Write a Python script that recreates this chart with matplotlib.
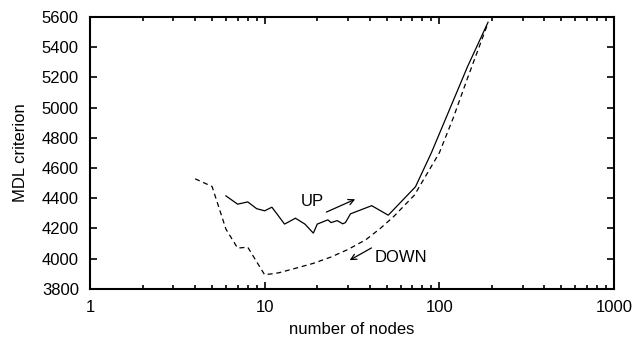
import matplotlib
matplotlib.use("Agg")
import matplotlib.pyplot as plt
from matplotlib.ticker import FixedLocator, FixedFormatter, LogLocator, NullFormatter

plt.rcParams['font.family'] = ['Liberation Sans', 'DejaVu Sans']

# UP search (solid)
up_nodes = [6, 7, 8, 9, 10, 11, 13, 15, 17, 19, 20, 23, 24, 26, 28, 29, 31, 41, 51, 73, 90, 145, 190]
up_mdl = [4415, 4360, 4375, 4330, 4316, 4340, 4228, 4267, 4228, 4168, 4228, 4256, 4238,
          4251, 4230, 4238, 4296, 4350, 4287, 4475, 4700, 5271, 5565]

# DOWN search (dashed)
down_nodes = [4, 5, 6, 7, 8, 10, 12, 15, 19, 24, 30, 38, 46, 55, 72, 100, 120, 145, 190]
down_mdl = [4528, 4477, 4195, 4069, 4075, 3892, 3905, 3935, 3968, 4010, 4060, 4125,
            4200, 4280, 4420, 4700, 4930, 5195, 5560]

x_ticks = [1, 10, 100, 1000]
x_tick_labels = ["1", "10", "100", "1000"]
y_ticks = [3800, 4000, 4200, 4400, 4600, 4800, 5000, 5200, 5400, 5600]

fig = plt.figure(figsize=(6.36, 3.41), dpi=100)
ax = fig.add_axes([90/636, 1 - 288.7/341, (614 - 90)/636, (288.7 - 17)/341])

ax.plot(up_nodes, up_mdl, color='black', lw=0.9, solid_joinstyle='miter')
ax.plot(down_nodes, down_mdl, color='black', lw=0.9, linestyle=(0, (4, 3)))

ax.set_xscale('log')
ax.set_xlim(1, 1000)
ax.set_ylim(3800, 5600)

ax.xaxis.set_major_locator(FixedLocator(x_ticks))
ax.xaxis.set_major_formatter(FixedFormatter(x_tick_labels))
ax.xaxis.set_minor_locator(LogLocator(base=10, subs=range(2, 10)))
ax.xaxis.set_minor_formatter(NullFormatter())
ax.yaxis.set_major_locator(FixedLocator(y_ticks))

ax.tick_params(which='both', direction='in', top=True, right=True, labelsize=12, width=1.2)
ax.tick_params(which='major', length=5, pad=8)
ax.tick_params(which='minor', length=3)
for s in ax.spines.values():
    s.set_linewidth(1.5)

ax.set_xlabel("number of nodes", fontsize=12, labelpad=5)
ax.set_ylabel("MDL criterion", fontsize=12, labelpad=10)

ax.annotate("", xy=(34.1, 4400), xytext=(21.8, 4300),
            arrowprops=dict(arrowstyle='->', color='black', lw=0.9))
ax.text(18.7, 4380, "UP", fontsize=12, ha='center', va='center')
ax.annotate("", xy=(29.7, 3980), xytext=(42.2, 4079),
            arrowprops=dict(arrowstyle='->', color='black', lw=0.9))
ax.text(42.5, 4005, "DOWN", fontsize=12, ha='left', va='center')

fig.savefig("out.png", dpi=100)
